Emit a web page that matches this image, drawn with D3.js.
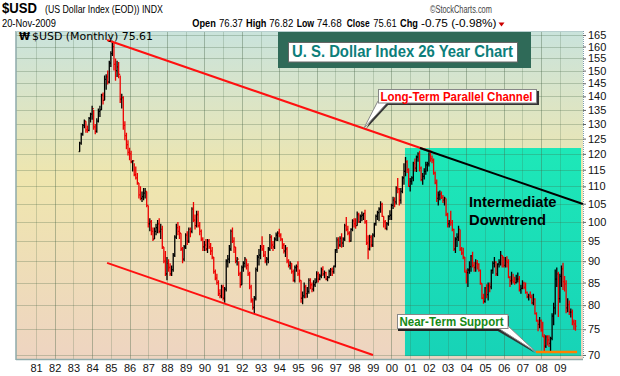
<!DOCTYPE html>
<html>
<head>
<meta charset="utf-8">
<script src="https://cdn.jsdelivr.net/npm/d3@7"></script>
<style>
  body { margin: 0; background: #fff; }
  svg { display: block; font-family: "Liberation Sans", Arial, sans-serif; }
</style>
</head>
<body>
<svg id="chart" width="620" height="376"></svg>
<script>
// monthly bars, first one is May 1983
var startYear = 1983;
var startMonth = 4;

var closes = [
  123.5, 126.5, 129.5, 131, 128, 127.8, 132, 133.5,
  135.5, 129, 127.5, 131, 134.5, 135, 140.5, 138.5, 146.5, 147.5, 145.5, 153,
  157, 160, 152.5, 150, 151.5, 148.5, 139, 139.5, 129.5, 126, 123, 120.5,
  120, 117.5, 117.8, 113.5, 112.5, 111, 107.5, 106.5, 107, 108, 108.5, 104.5,
  99.5, 100, 97.5, 95.5, 97.5, 98.5, 99.5, 97.5, 98, 93.5, 90, 87,
  89.5, 88.5, 87, 88, 91.5, 96, 98.5, 97.5, 97, 93, 90.5, 93.5,
  96.5, 95, 98, 97.5, 103.5, 100.5, 99, 102, 99, 97.5, 95.5, 93.5,
  94, 93, 95, 93.5, 92.5, 91, 87.5, 86, 85, 82.5, 82, 84,
  81.5, 83.5, 90, 90.5, 93, 97.5, 95, 93.5, 90, 90.5, 87, 84.5,
  88.5, 89.5, 90.5, 89, 87, 84, 81, 79.5, 81.5, 88, 91, 91.5,
  93.5, 93, 91.5, 90, 90.5, 93, 96, 94, 93.5, 95.5, 96.5, 97,
  96.5, 95.5, 94, 92.5, 93, 90, 89, 89.5, 87.5, 85.5, 88.5, 88.7,
  87, 85.5, 81.5, 82, 84, 82.5, 83, 85.5, 84.5, 83.5, 84.5, 85,
  87, 85.8, 86.5, 88, 87, 87.3, 85.8, 86.2, 87.6, 88, 87.5, 88.8,
  92.8, 95.3, 94, 95.7, 94.5, 95.5, 99, 98, 97, 95, 98, 100.3,
  99.5, 99, 102, 100, 101.5, 101.8, 102.3, 100, 94.5, 93, 96, 94,
  96.5, 99.5, 101.5, 102.5, 103.5, 104.8, 101.5, 100, 98.3, 99.5, 101.5, 101.8,
  104.5, 106, 105.5, 109.5, 109.2, 106, 108.5, 112.5, 114.5, 117.5, 115, 110,
  111.5, 112.5, 117, 115.5, 119, 120, 115.5, 112, 113, 114.5, 116.5, 116.8,
  119.8, 118.5, 118, 114, 111, 106.5, 107.5, 107.8, 106.8, 106, 106.5, 102,
  99.5, 100, 99.8, 98, 93, 95.5, 96, 98, 93, 92, 91, 87.4,
  87.3, 87.9, 88.7, 91.3, 89, 88.5, 89.5, 89.3, 87.8, 84.8, 81.5, 80.8,
  83.8, 82.3, 84.3, 84, 87.8, 89.5, 89.8, 87, 89.3, 89.8, 91.4, 91,
  89, 90, 89.8, 86.2, 85.4, 85.5, 85.2, 85, 85.8, 85.8, 83.4, 83.7,
  84.8, 83.9, 82.8, 81.8, 82.1, 81.7, 80.5, 81.3, 78.2, 76.7, 76, 76.7,
  74.8, 73.5, 71.7, 73.5, 72.9, 72.2, 73.2, 77.7, 79.4, 85.8, 87, 81.4,
  86.4, 88.2, 85.2, 84.7, 79.4, 80.1, 78.5, 78.5, 76.5, 76.1, 75.6
];

var highs = [
  124, 127, 130, 131.6, 131, 129.5, 132.5, 134,
  136.5, 135, 130, 132, 135.5, 136.5, 141, 141.5, 148, 148.5, 150, 154,
  158, 162.5, 162, 155, 154, 153.5, 148, 141, 140, 131, 127, 124.5,
  122, 121, 118, 117, 116, 114, 111, 110, 108.5, 109.5, 109.5, 108.5,
  104.5, 101, 100.5, 98.5, 98.5, 99.5, 100.5, 101, 99.5, 99, 93.5, 92.5,
  91, 90.5, 89.5, 89, 92, 96.5, 99.5, 100, 99, 97, 93.5, 94,
  97, 97.5, 98.5, 98.5, 104, 105.5, 102, 103, 103, 100, 98, 96,
  95, 95.5, 95.5, 95.5, 94.5, 93.5, 91, 88, 87, 85.5, 83.5, 84.5,
  84.5, 84, 90.5, 91.5, 94, 98, 98.5, 96, 93.5, 91, 90, 87.5,
  89, 90, 91, 90.5, 89.5, 87.5, 84.5, 81.5, 82, 88.5, 91.5, 93,
  94, 96.2, 94, 92.5, 91, 93.5, 96.8, 96.5, 95, 96, 97.2, 97.5,
  98.2, 97, 95.7, 94.5, 94, 93.5, 90.5, 90, 89.5, 88, 89, 89.2,
  90, 88, 85.5, 83, 85, 84.5, 84, 86, 86, 85, 85.5, 86,
  87.6, 87.5, 87, 88.5, 88.8, 87.8, 87.5, 86.5, 88, 88.4, 88.5, 89,
  93, 96, 96, 96.2, 97, 96, 99.5, 101.3, 99, 97.5, 98.3, 100.7,
  101, 101, 102.8, 102.5, 102, 102.8, 102.5, 103.3, 100.5, 96.5, 96.6, 96.5,
  97, 99.8, 102, 103, 104, 105.7, 105.3, 101.5, 100.5, 100, 101.8, 103.2,
  105, 107, 106.8, 110, 112.5, 109.5, 109.5, 113, 117, 119, 118, 115.5,
  112.5, 113, 117.5, 118.5, 119.5, 120.5, 121, 116, 114, 115.5, 117.5, 117.5,
  120.5, 120.3, 119.5, 118.5, 114.5, 112, 108.5, 108.8, 108.5, 107.5, 107, 106.5,
  102.5, 100.5, 103, 100.5, 98.2, 96, 97, 99, 98, 93.5, 93.3, 91,
  88, 88.3, 90, 91.5, 92.3, 89.8, 90.5, 90.3, 89.5, 88, 84.8, 82.5,
  84, 84.6, 85, 85, 88, 90, 91, 90, 89.5, 90.5, 92.5, 91.5,
  91, 91, 91.2, 90.5, 86.5, 87.5, 87, 86.3, 86.8, 87.3, 86.5, 84.5,
  85.5, 85.2, 85, 83, 82.5, 83, 82.3, 82.5, 81.5, 78.5, 77, 77.5,
  77, 76.5, 74, 73.8, 73.8, 73.8, 73.5, 78.3, 80.5, 88, 88.5, 87.5,
  87, 89, 89.6, 86.5, 85.5, 81.5, 81, 79.3, 79.1, 77, 76.9
];

var lows = [
  120.7, 123, 126, 128.5, 127, 127, 127.5, 130.5,
  131.5, 128, 126.5, 127, 130.5, 132.5, 135, 137, 138.5, 142.5, 144.5, 145,
  151.5, 156, 150, 146, 147.5, 147, 137.5, 135.5, 128, 124.5, 121.5, 119.5,
  118, 117, 114.5, 113, 112, 110.5, 106.5, 106, 105.5, 106, 106.5, 104,
  98.5, 97.5, 96.5, 95, 95.5, 96.5, 97, 97, 95.5, 93, 89.5, 86.5,
  85.5, 87.5, 86.5, 86.5, 87.5, 91, 95.5, 96.5, 95.5, 92.5, 89.5, 90,
  93, 94, 94.5, 96, 97, 100, 98, 98.5, 98.5, 96.5, 95, 92.5,
  92.5, 92.5, 92, 93, 91.5, 90.5, 87, 85.5, 84.5, 82, 81.5, 81.5,
  81, 80.5, 83, 88.5, 89.5, 92.5, 94.5, 92, 89.5, 89, 86.5, 83.8,
  84.5, 87.5, 88.5, 88, 86.5, 83.5, 80.5, 79, 78.3, 81, 87.5, 89,
  90.5, 92.5, 91, 89.5, 89, 89.5, 92.5, 93, 92.5, 93, 95, 95,
  96, 95, 93, 91.9, 91, 89.5, 88.5, 88, 87, 85.2, 85, 87.5,
  86.5, 85, 80.5, 80.2, 81.5, 81.5, 81.6, 82.5, 83.5, 82.8, 83, 84,
  85, 85, 85.5, 86, 86.5, 86, 85.5, 85.3, 86, 86.5, 86.5, 87,
  88.5, 92, 93, 93.5, 93.3, 93.5, 95, 97.5, 96.5, 94.7, 94.8, 97.5,
  98.5, 98.2, 99, 99.7, 99.7, 100.2, 100.5, 99.5, 94, 90.5, 92.6, 93.4,
  93.5, 96, 99, 100.5, 100.2, 102.5, 101.3, 98.5, 98, 97.8, 99, 100.5,
  100.5, 103.5, 104, 104.8, 108, 104.5, 105, 108, 110.5, 113, 114, 109.8,
  108.5, 110.5, 111.5, 114.5, 114.3, 117.5, 114.5, 111.5, 110.5, 112, 113.5, 114.5,
  116, 117.5, 117, 113.5, 110.6, 105.5, 104.5, 106, 106.3, 105.2, 104.5, 101.5,
  98.5, 98.5, 99, 97.5, 92.5, 92, 93.5, 95, 92.5, 91.5, 90.5, 87.3,
  84.8, 84, 87, 87.5, 88.5, 87.5, 87.5, 88, 87.5, 84.5, 81.3, 80.3,
  80.5, 81.5, 81, 82.8, 83.5, 87, 88.5, 86.5, 86.5, 88.5, 89, 88.5,
  88.5, 88.5, 88.5, 86, 84, 84.5, 84.8, 84.5, 84.8, 85, 83, 82.5,
  83.5, 83.5, 82.5, 81.5, 81, 81.5, 80.2, 80, 78, 76.5, 74.6, 75.2,
  74.5, 73.5, 70.7, 71.3, 71.8, 71.5, 70.7, 72.8, 75.8, 78, 84, 77.5,
  80.5, 84, 83.3, 83, 78.3, 78.5, 77.9, 77.4, 75.8, 74.9, 74.7
];

var yTicks = [70, 75, 80, 85, 90, 95, 100, 105, 110, 115, 120, 125, 130, 135, 140, 145, 150, 155, 160, 165];
var yearTicks = [1981, 1982, 1983, 1984, 1985, 1986, 1987, 1988, 1989, 1990, 1991, 1992, 1993, 1994, 1995,
  1996, 1997, 1998, 1999, 2000, 2001, 2002, 2003, 2004, 2005, 2006, 2007, 2008, 2009];

// annotation lines as [decimal year, value] pairs
var channelTop = [[1984.8, 162.8], [2002.17, 120.6]];
var channelBottom = [[1984.8, 89.6], [1999.01, 70.0]];
var downtrend = [[2001.52, 121.9], [2010.23, 104.9]];
var support = [[2007.72, 70.56], [2009.92, 70.56]];
var shadeYears = [2000.72, 2010.13];
var shadeValues = [69.8, 121.9];

var plot = { left: 16, right: 583, top: 31, bottom: 359 };

var svg = d3.select("#chart");

var x = d3.scaleLinear().domain([1979.931, 2010.235]).range([plot.left, plot.right]);
var y = d3.scaleLog().domain([69.25, 166.8]).range([plot.bottom, plot.top]);

var defs = svg.append("defs");
var bgGrad = defs.append("linearGradient").attr("id", "bgGrad")
  .attr("x1", 0).attr("y1", 0).attr("x2", 0).attr("y2", 1);
bgGrad.append("stop").attr("offset", "0%").attr("stop-color", "#c9e3dc");
bgGrad.append("stop").attr("offset", "45%").attr("stop-color", "#efe6ae");
bgGrad.append("stop").attr("offset", "100%").attr("stop-color", "#eed4c1");

var tealGrad = defs.append("linearGradient").attr("id", "tealGrad")
  .attr("x1", 0).attr("y1", 0).attr("x2", 0).attr("y2", 1);
tealGrad.append("stop").attr("offset", "0%").attr("stop-color", "#1ee8b8");
tealGrad.append("stop").attr("offset", "100%").attr("stop-color", "#17d3b7");

// plot background
svg.append("rect")
  .attr("x", plot.left).attr("y", plot.top)
  .attr("width", plot.right - plot.left).attr("height", plot.bottom - plot.top)
  .attr("fill", "url(#bgGrad)");

// intermediate downtrend zone
svg.append("rect")
  .attr("x", x(shadeYears[0])).attr("y", y(shadeValues[1]))
  .attr("width", x(shadeYears[1]) - x(shadeYears[0]))
  .attr("height", y(shadeValues[0]) - y(shadeValues[1]))
  .attr("fill", "url(#tealGrad)");

// grid
var grid = svg.append("g");
grid.selectAll("line.h").data(yTicks).enter().append("line")
  .attr("x1", plot.left).attr("x2", plot.right)
  .attr("y1", function (d) { return Math.round(y(d)) + 0.5; })
  .attr("y2", function (d) { return Math.round(y(d)) + 0.5; })
  .attr("stroke", "rgba(70,100,70,0.28)");
grid.selectAll("line.v").data(yearTicks).enter().append("line")
  .attr("x1", function (d) { return Math.round(x(d)) + 0.5; })
  .attr("x2", function (d) { return Math.round(x(d)) + 0.5; })
  .attr("y1", plot.top).attr("y2", plot.bottom)
  .attr("stroke", function (d) { return d % 2 == 0 ? "rgba(70,100,70,0.38)" : "rgba(70,100,70,0.22)"; });

// border
svg.append("line").attr("x1", plot.left).attr("x2", plot.left).attr("y1", plot.top).attr("y2", plot.bottom + 1)
  .attr("stroke", "#8eaaaa").attr("stroke-width", 1.5);
svg.append("line").attr("x1", plot.left).attr("x2", plot.right).attr("y1", plot.bottom + 0.5).attr("y2", plot.bottom + 0.5)
  .attr("stroke", "#8eaaaa").attr("stroke-width", 1.5);
svg.append("line").attr("x1", plot.left).attr("x2", plot.right).attr("y1", plot.top + 0.5).attr("y2", plot.top + 0.5)
  .attr("stroke", "#b7cfcf");
svg.append("line").attr("x1", plot.right + 0.5).attr("x2", plot.right + 0.5).attr("y1", plot.top).attr("y2", plot.bottom)
  .attr("stroke", "#7f9fae").attr("stroke-dasharray", "1,1");

// price bars
var bars = closes.map(function (c, i) {
  return {
    t: startYear + (startMonth + i) / 12,
    o: i > 0 ? closes[i - 1] : lows[i],
    h: highs[i],
    l: lows[i],
    c: c,
    up: i == 0 || c >= closes[i - 1]
  };
});

svg.append("g").selectAll("path").data(bars).enter().append("path")
  .attr("d", function (d) {
    var px = x(d.t);
    return "M" + px + "," + y(d.h) + "V" + y(d.l) +
      "M" + (px - 1) + "," + y(d.o) + "H" + px +
      "M" + px + "," + y(d.c) + "H" + (px + 1);
  })
  .attr("stroke", function (d) { return d.up ? "#000" : "#ee0000"; })
  .attr("stroke-width", 1.3)
  .attr("fill", "none");

// trend lines
var line = d3.line().x(function (d) { return x(d[0]); }).y(function (d) { return y(d[1]); });
svg.append("path").attr("d", line(channelTop)).attr("stroke", "#ff1010").attr("stroke-width", 2).attr("fill", "none");
svg.append("path").attr("d", line(channelBottom)).attr("stroke", "#ff1010").attr("stroke-width", 2).attr("fill", "none");
svg.append("path").attr("d", line(downtrend)).attr("stroke", "#000").attr("stroke-width", 2).attr("fill", "none");
svg.append("path").attr("d", line(support)).attr("stroke", "#ff8000").attr("stroke-width", 2.5).attr("fill", "none");

// axes
var yAxis = svg.append("g")
  .attr("transform", "translate(" + plot.right + ",0)")
  .call(d3.axisRight(y).tickValues(yTicks).tickSize(3).tickPadding(2).tickFormat(d3.format("d")));
yAxis.select(".domain").remove();
yAxis.selectAll("line").attr("stroke", "#666");
yAxis.selectAll("text").attr("font-size", "11px").attr("fill", "#111")
  .attr("font-family", "'Liberation Sans', Arial, sans-serif");

var xAxis = svg.append("g")
  .attr("transform", "translate(0," + plot.bottom + ")")
  .call(d3.axisBottom(x).tickValues(yearTicks).tickSize(0).tickPadding(5)
    .tickFormat(function (d) { return String(d).slice(2); }));
xAxis.select(".domain").remove();
xAxis.selectAll("text").attr("font-size", "11px").attr("fill", "#111")
  .attr("font-family", "'Liberation Sans', Arial, sans-serif");

// header: narrow look made by squeezing each text horizontally to its measured width
function hdr(txt, px, py, size, len, bold, color) {
  var t = svg.append("text").attr("x", 0).attr("y", 0)
    .attr("font-family", "'Liberation Sans', Arial, sans-serif").attr("font-size", size)
    .attr("font-weight", bold ? "bold" : "normal")
    .attr("fill", color || "#000")
    .text(txt);
  var w = t.node().getComputedTextLength();
  t.attr("transform", "translate(" + px + "," + py + ") scale(" + (len / w) + ",1)");
}
hdr("$USD", 2, 12.5, 14, 35, true);
hdr("(US Dollar Index (EOD)) INDX", 45, 12.5, 11, 118, false);
hdr("20-Nov-2009", 2, 27, 11, 54, false);
hdr("\u00a9StockCharts.com", 430, 12.5, 10, 62, false, "#444");
hdr("Open", 192.3, 27, 11, 23.5, true);
hdr("76.37", 219, 27, 11, 24, false);
hdr("High", 246, 27, 11, 20.5, true);
hdr("76.82", 269.3, 27, 11, 24, false);
hdr("Low", 296.7, 27, 11, 17.5, true);
hdr("74.68", 316.7, 27, 11, 25, false);
hdr("Close", 346.7, 27, 11, 23, true);
hdr("75.61", 373.3, 27, 11, 23.5, false);
hdr("Chg", 400, 27, 11, 18, true);
hdr("-0.75 (-0.98%)", 421, 27, 11, 75.5, false);
svg.append("path").attr("d", "M498.5,22.5H504.5L501.5,26.5Z").attr("fill", "#cc0000");

// in-plot label
svg.append("text").attr("x", 19).attr("y", 40).attr("font-family", "DejaVu Sans, sans-serif")
  .attr("font-size", "10px").attr("font-weight", "bold").text("\u20a9");
svg.append("text").attr("x", 32).attr("y", 40).attr("font-family", "DejaVu Sans, sans-serif")
  .attr("font-size", "10px").attr("textLength", 121).attr("lengthAdjust", "spacingAndGlyphs")
  .text("$USD (Monthly) 75.61");

// title box
svg.append("rect").attr("x", 278).attr("y", 32).attr("width", 253).attr("height", 36).attr("fill", "#2f6a58");
svg.append("rect").attr("x", 288.5).attr("y", 42.5).attr("width", 229).attr("height", 19.5)
  .attr("fill", "#fff").attr("stroke", "#666");
svg.append("text").attr("x", 292).attr("y", 57).attr("font-size", "16px").attr("font-weight", "bold")
  .attr("fill", "#0c7e7a").attr("textLength", 221).attr("lengthAdjust", "spacingAndGlyphs")
  .text("U. S. Dollar Index 26 Year Chart");

// callout: long-term channel
svg.append("polygon").attr("points", "381,102 389,104 366,129").attr("fill", "#333");
svg.append("rect").attr("x", 380).attr("y", 91).attr("width", 159).attr("height", 14).attr("fill", "#333");
svg.append("polygon").attr("points", "378,101 387,103 364,128").attr("fill", "#fff").attr("stroke", "#888");
svg.append("rect").attr("x", 378.5).attr("y", 89.5).attr("width", 158).attr("height", 13.5)
  .attr("fill", "#fff").attr("stroke", "#888");
svg.append("text").attr("x", 380.5).attr("y", 100.5).attr("font-size", "12px").attr("font-weight", "bold")
  .attr("fill", "#ff0000").attr("textLength", 152).attr("lengthAdjust", "spacingAndGlyphs")
  .text("Long-Term Parallel Channel");

// callout: near-term support
svg.append("polygon").attr("points", "496,330 506,328 535,353").attr("fill", "#333");
svg.append("rect").attr("x", 398).attr("y", 316).attr("width", 111).attr("height", 15).attr("fill", "#222");
svg.append("polygon").attr("points", "498,328 508,326 536,352").attr("fill", "#fff").attr("stroke", "#888");
svg.append("rect").attr("x", 397.5).attr("y", 314.5).attr("width", 110.5).attr("height", 14)
  .attr("fill", "#fff").attr("stroke", "#888");
svg.append("text").attr("x", 399.5).attr("y", 325.5).attr("font-size", "12px").attr("font-weight", "bold")
  .attr("fill", "#158a15").attr("textLength", 104).attr("lengthAdjust", "spacingAndGlyphs")
  .text("Near-Term Support");

// downtrend label
svg.append("text").attr("x", 469).attr("y", 207).attr("font-size", "15px").attr("font-weight", "bold")
  .attr("fill", "#000").attr("textLength", 87.5).attr("lengthAdjust", "spacingAndGlyphs").text("Intermediate");
svg.append("text").attr("x", 469).attr("y", 225).attr("font-size", "15px").attr("font-weight", "bold")
  .attr("fill", "#000").attr("textLength", 77).attr("lengthAdjust", "spacingAndGlyphs").text("Downtrend");
</script>
</body>
</html>
